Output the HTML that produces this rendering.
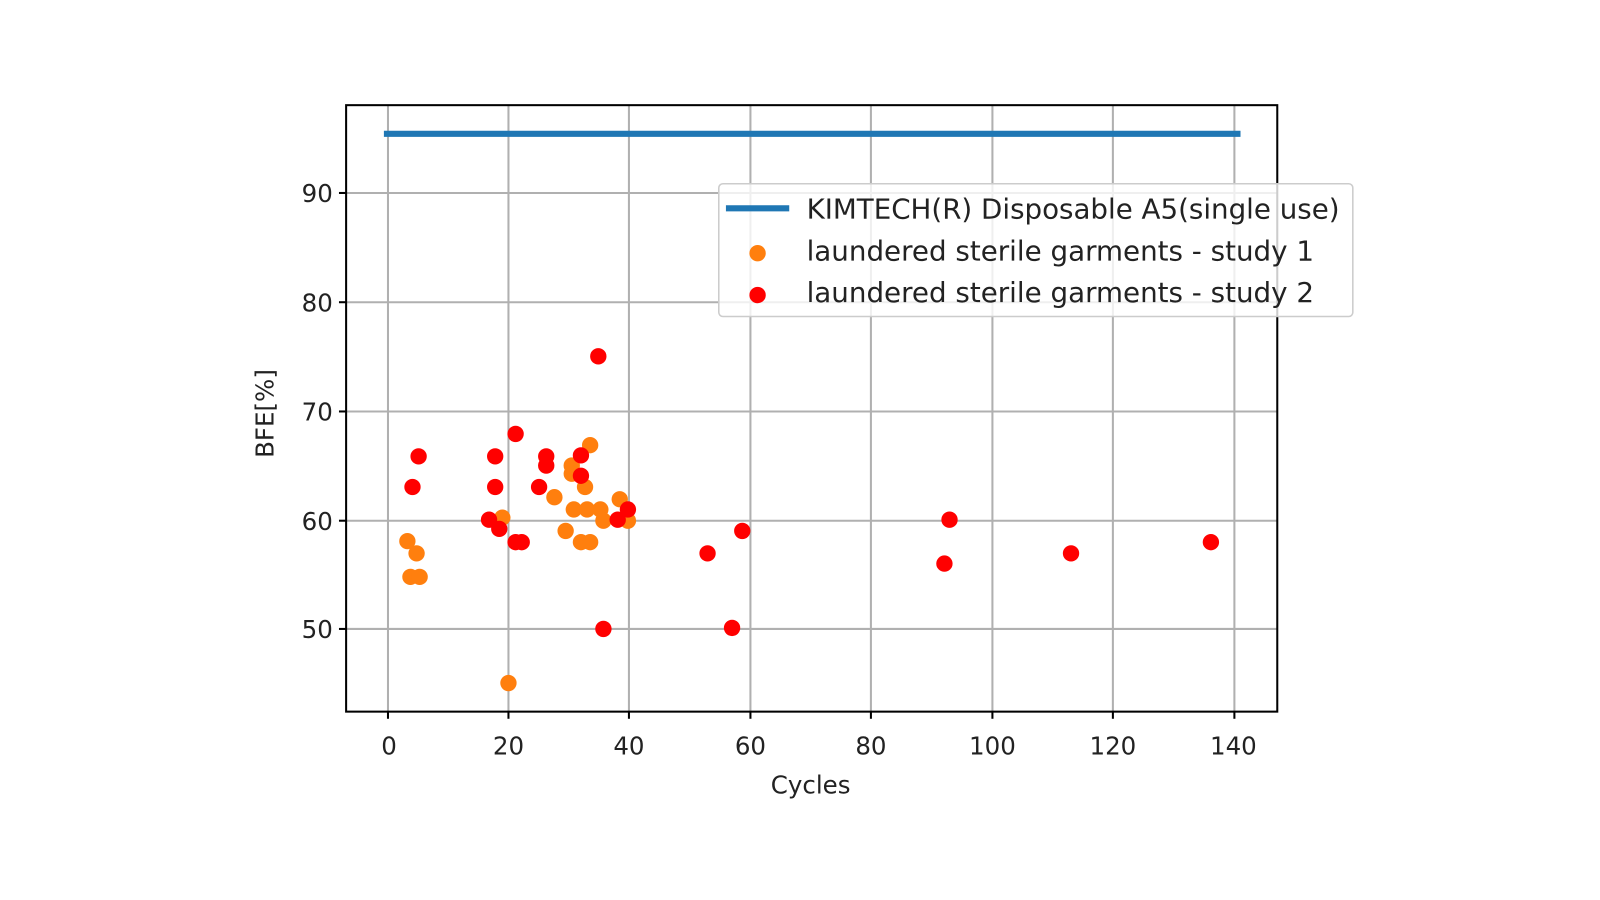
<!DOCTYPE html>
<html><head><meta charset="utf-8"><style>body{margin:0;background:#fff}svg{display:block}</style></head><body>
<svg width="1600" height="900" xmlns="http://www.w3.org/2000/svg" font-family="DejaVu Sans, Liberation Sans, sans-serif">
<rect width="1600" height="900" fill="#fff"/>
<g transform="scale(1.021)">
<g stroke="#b0b0b0" stroke-width="2">
<line x1="380" y1="103" x2="380" y2="697"/><line x1="498" y1="103" x2="498" y2="697"/><line x1="616" y1="103" x2="616" y2="697"/><line x1="735" y1="103" x2="735" y2="697"/><line x1="853" y1="103" x2="853" y2="697"/><line x1="972" y1="103" x2="972" y2="697"/><line x1="1090" y1="103" x2="1090" y2="697"/><line x1="1209" y1="103" x2="1209" y2="697"/>
<line x1="339" y1="189" x2="1251" y2="189"/><line x1="339" y1="296" x2="1251" y2="296"/><line x1="339" y1="403" x2="1251" y2="403"/><line x1="339" y1="510" x2="1251" y2="510"/><line x1="339" y1="616" x2="1251" y2="616"/>
</g>
<line x1="376" y1="131" x2="1215" y2="131" stroke="#1f77b4" stroke-width="6"/>
<g fill="#ff7f0e">
<circle cx="578" cy="436" r="8"/><circle cx="560" cy="456" r="8"/><circle cx="560" cy="464" r="8"/><circle cx="573" cy="477" r="8"/><circle cx="543" cy="487" r="8"/><circle cx="562" cy="499" r="8"/><circle cx="575" cy="499" r="8"/><circle cx="588" cy="499" r="8"/><circle cx="607" cy="489" r="8"/><circle cx="591" cy="510" r="8"/><circle cx="615" cy="510" r="8"/><circle cx="492" cy="507" r="8"/><circle cx="554" cy="520" r="8"/><circle cx="569" cy="531" r="8"/><circle cx="578" cy="531" r="8"/><circle cx="399" cy="530" r="8"/><circle cx="408" cy="542" r="8"/><circle cx="402" cy="565" r="8"/><circle cx="411" cy="565" r="8"/><circle cx="498" cy="669" r="8"/>
</g>
<g fill="#ff0000">
<circle cx="586" cy="349" r="8"/><circle cx="505" cy="425" r="8"/><circle cx="410" cy="447" r="8"/><circle cx="485" cy="447" r="8"/><circle cx="535" cy="447" r="8"/><circle cx="535" cy="456" r="8"/><circle cx="569" cy="446" r="8"/><circle cx="404" cy="477" r="8"/><circle cx="485" cy="477" r="8"/><circle cx="528" cy="477" r="8"/><circle cx="569" cy="466" r="8"/><circle cx="479" cy="509" r="8"/><circle cx="489" cy="518" r="8"/><circle cx="505" cy="531" r="8"/><circle cx="511" cy="531" r="8"/><circle cx="605" cy="509" r="8"/><circle cx="615" cy="499" r="8"/><circle cx="591" cy="616" r="8"/>
<circle cx="693" cy="542" r="8"/><circle cx="727" cy="520" r="8"/><circle cx="717" cy="615" r="8"/><circle cx="925" cy="552" r="8"/><circle cx="930" cy="509" r="8"/><circle cx="1049" cy="542" r="8"/><circle cx="1186" cy="531" r="8"/>
</g>
<rect x="339" y="103" width="912" height="594" fill="none" stroke="#000" stroke-width="2"/>
<g stroke="#000" stroke-width="2">
<line x1="380" y1="697" x2="380" y2="704"/><line x1="498" y1="697" x2="498" y2="704"/><line x1="616" y1="697" x2="616" y2="704"/><line x1="735" y1="697" x2="735" y2="704"/><line x1="853" y1="697" x2="853" y2="704"/><line x1="972" y1="697" x2="972" y2="704"/><line x1="1090" y1="697" x2="1090" y2="704"/><line x1="1209" y1="697" x2="1209" y2="704"/>
<line x1="332" y1="189" x2="339" y2="189"/><line x1="332" y1="296" x2="339" y2="296"/><line x1="332" y1="403" x2="339" y2="403"/><line x1="332" y1="510" x2="339" y2="510"/><line x1="332" y1="616" x2="339" y2="616"/>
</g>
<g font-size="24" fill="#222" text-anchor="middle">
<text x="381" y="739">0</text><text x="498" y="739">20</text><text x="616" y="739">40</text><text x="735" y="739">60</text><text x="853" y="739">80</text><text x="972" y="739">100</text><text x="1090" y="739">120</text><text x="1208" y="739">140</text>
<text x="794" y="777">Cycles</text>
</g>
<g font-size="24" fill="#222" text-anchor="end">
<text x="326" y="198">90</text><text x="326" y="305">80</text><text x="326" y="412">70</text><text x="326" y="519">60</text><text x="326" y="625">50</text>
</g>
<text transform="translate(268,405) rotate(-90)" font-size="24" fill="#222" text-anchor="middle">BFE[%]</text>
<rect x="704" y="180" width="621" height="130" rx="4" fill="#fff" fill-opacity="0.8" stroke="#ccc" stroke-width="1.5"/>
<line x1="711" y1="204" x2="773" y2="204" stroke="#1f77b4" stroke-width="6"/>
<circle cx="742" cy="248" r="8" fill="#ff7f0e"/>
<circle cx="742" cy="289" r="8" fill="#ff0000"/>
<g font-size="27" fill="#222">
<text x="790" y="214" textLength="522" lengthAdjust="spacingAndGlyphs">KIMTECH(R) Disposable A5(single use)</text>
<text x="790" y="255" textLength="497" lengthAdjust="spacingAndGlyphs">laundered sterile garments - study 1</text>
<text x="790" y="296" textLength="497" lengthAdjust="spacingAndGlyphs">laundered sterile garments - study 2</text>
</g>
</g>
</svg>
</body></html>
